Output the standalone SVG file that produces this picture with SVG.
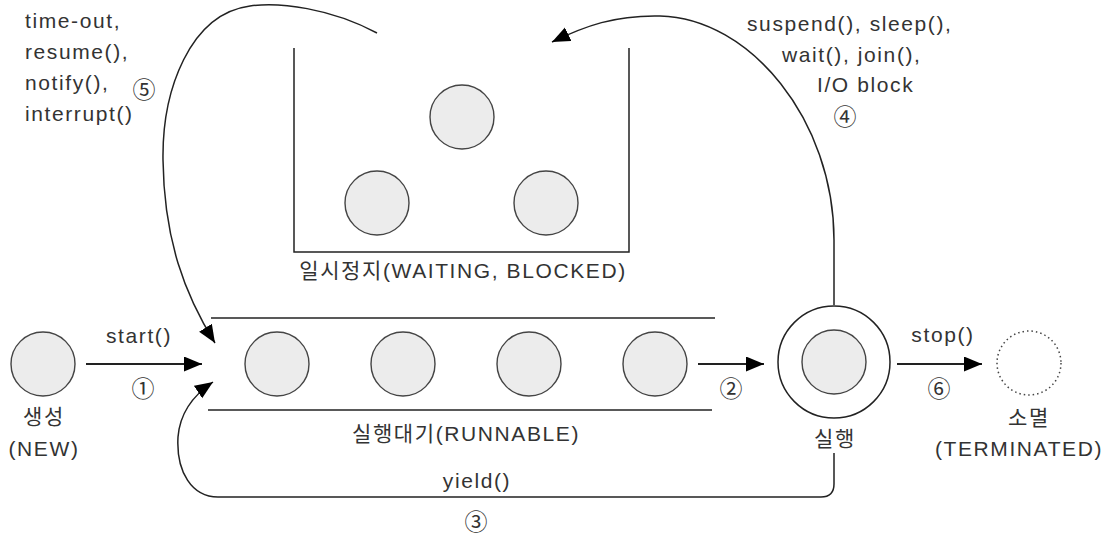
<svg xmlns="http://www.w3.org/2000/svg" width="1106" height="535" viewBox="0 0 1106 535">
<style>
.t{font-family:"Liberation Sans","Noto Sans CJK KR",sans-serif;font-size:21px;fill:#333;letter-spacing:1.6px}
.k{font-family:"Noto Sans CJK KR",sans-serif;font-size:23px;fill:#333;text-anchor:middle}
.c{text-anchor:middle}
.n{fill:#ececec;stroke:#444;stroke-width:1.4}
.ln{fill:none;stroke:#222;stroke-width:1.5}
.ar{fill:none;stroke:#222;stroke-width:1.8}
</style>
<defs>
<marker id="ah" markerUnits="userSpaceOnUse" markerWidth="20" markerHeight="16" refX="18" refY="7.5" orient="auto">
<path d="M0,0 L18,7.5 L0,15 z" fill="#000"/>
</marker>
</defs>

<g id="new">
<circle class="n" cx="43" cy="364" r="32"/>
<text class="t c" x="44" y="424">생성</text>
<text class="t c" x="44" y="456">(NEW)</text>
</g>

<g id="runnable">
<line class="ln" x1="211" y1="318" x2="715" y2="318"/>
<line class="ln" x1="208" y1="410" x2="712" y2="410"/>
<circle class="n" cx="277" cy="364" r="32"/>
<circle class="n" cx="403" cy="364" r="32"/>
<circle class="n" cx="529" cy="364" r="32"/>
<circle class="n" cx="655" cy="364" r="32"/>
<text class="t c" x="466" y="441">실행대기(RUNNABLE)</text>
</g>

<g id="waiting">
<path class="ln" d="M294 48 L294 252 L629 252 L629 48"/>
<circle class="n" cx="462" cy="117" r="32"/>
<circle class="n" cx="377" cy="203" r="32"/>
<circle class="n" cx="546" cy="203" r="32"/>
<text class="t c" x="463" y="278">일시정지(WAITING, BLOCKED)</text>
</g>

<g id="running">
<circle cx="834" cy="362" r="56" fill="#fff" stroke="#222" stroke-width="1.5"/>
<circle class="n" cx="834" cy="362" r="32"/>
<text class="t c" x="835" y="446">실행</text>
</g>

<g id="terminated">
<circle cx="1029" cy="363" r="32" fill="none" stroke="#444" stroke-width="1.5" stroke-dasharray="1.5 3"/>
<text class="t c" x="1029" y="425">소멸</text>
<text class="t c" x="1019" y="456">(TERMINATED)</text>
</g>

<g id="connectors">
<line class="ar" x1="86" y1="364" x2="202" y2="364" marker-end="url(#ah)"/>
<line class="ar" x1="698" y1="364" x2="764" y2="364" marker-end="url(#ah)"/>
<line class="ar" x1="897" y1="364" x2="982" y2="364" marker-end="url(#ah)"/>
<path class="ln" d="M834 453 L834 484 Q834 497 821 497 L218 497 C192 497 176 472 178 437 C180 412 195 394 213 382" marker-end="url(#ah)"/>
<path class="ln" d="M834 305 L834 240 C834 120 750 18 660 16 C615 15 585 26 552 42" marker-end="url(#ah)"/>
<path class="ln" d="M377 33 C330 8 280 2 250 6 C190 14 162 90 163 160 C164 240 185 295 215 343" marker-end="url(#ah)"/>
</g>

<g id="labels">
<text class="t" x="25" y="28">time-out,</text>
<text class="t" x="25" y="59">resume(),</text>
<text class="t" x="25" y="90">notify(),</text>
<text class="t" x="25" y="121">interrupt()</text>
<text class="k" x="144" y="98">⑤</text>
<text class="t" x="747" y="31">suspend(), sleep(),</text>
<text class="t" x="782" y="62">wait(), join(),</text>
<text class="t" x="817" y="92">I/O block</text>
<text class="k" x="845" y="125">④</text>
<text class="t c" x="139" y="343">start()</text>
<text class="k" x="143" y="397">①</text>
<text class="k" x="731" y="397">②</text>
<text class="t c" x="943" y="342">stop()</text>
<text class="k" x="939" y="397">⑥</text>
<text class="t c" x="477" y="488">yield()</text>
<text class="k" x="476" y="530">③</text>
</g>
</svg>
